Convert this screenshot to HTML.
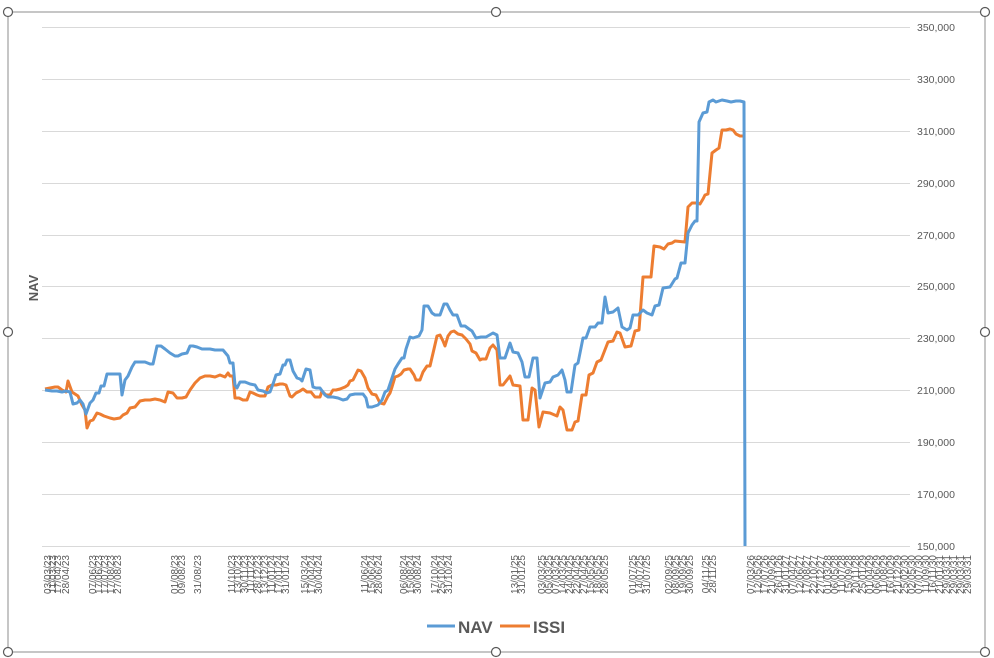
<!DOCTYPE html>
<html><head><meta charset="utf-8"><style>
html,body{margin:0;padding:0;background:#fff;}
svg{display:block;font-family:"Liberation Sans",sans-serif;}
</style></head><body>
<svg width="994" height="658" viewBox="0 0 994 658" xmlns="http://www.w3.org/2000/svg">
<rect x="8" y="12" width="977" height="640" fill="#fff" stroke="#8c8c8c" stroke-width="1"/>
<g stroke="#d9d9d9" stroke-width="1">
<line x1="42" x2="910" y1="27.5" y2="27.5"/><line x1="42" x2="910" y1="79.5" y2="79.5"/>
<line x1="42" x2="910" y1="131.5" y2="131.5"/><line x1="42" x2="910" y1="183.5" y2="183.5"/>
<line x1="42" x2="910" y1="235.5" y2="235.5"/><line x1="42" x2="910" y1="286.5" y2="286.5"/>
<line x1="42" x2="910" y1="338.5" y2="338.5"/><line x1="42" x2="910" y1="390.5" y2="390.5"/>
<line x1="42" x2="910" y1="442.5" y2="442.5"/><line x1="42" x2="910" y1="494.5" y2="494.5"/>
<line x1="42" x2="910" y1="546.5" y2="546.5"/>
</g>
<g font-size="10.5" fill="#595959">
<text x="917" y="31">350,000</text><text x="917" y="83">330,000</text>
<text x="917" y="135">310,000</text><text x="917" y="187">290,000</text>
<text x="917" y="239">270,000</text><text x="917" y="290">250,000</text>
<text x="917" y="342">230,000</text><text x="917" y="394">210,000</text>
<text x="917" y="446">190,000</text><text x="917" y="498">170,000</text>
<text x="917" y="550">150,000</text>
</g>
<text transform="translate(38,288) rotate(-90)" font-size="13" font-weight="bold" fill="#595959" text-anchor="middle">NAV</text>
<polyline fill="none" stroke="#ED7D31" stroke-width="3" stroke-linejoin="round" points="45,389 50,388 55,387 58,387 62,390 66,392 68,381 72,392 75,394 78,396 82,405 85,410 87,428 90,421 93,420 97,413 100,414 104,416 110,418 114,419 120,418 123,415 127,413 130,408 135,407 140,401 145,400 150,400 155,399 160,400 165,402 168,392 173,393 177,398 182,398 186,397 190,390 195,383 200,378 205,376 210,376 215,377 220,375 225,377 228,373 230,376 233,376 235,398 239,398 243,400 247,400 250,392 253,393 257,395 260,396 265,396 268,387 272,385 276,385 280,384 283,384 286,385 290,396 292,397 296,393 300,391 303,389 307,392 311,392 315,397 320,397 322,391 326,395 330,395 333,390 336,390 340,389 345,387 348,385 350,381 353,380 355,376 358,370 361,371 365,378 368,388 372,394 376,395 380,403 384,404 386,400 388,396 390,393 392,387 395,377 398,376 401,374 404,370 408,369 410,369 414,375 416,380 420,380 423,372 427,366 430,366 434,349 437,336 440,335 443,341 445,346 448,336 451,332 454,331 458,334 462,335 466,339 470,344 472,351 476,353 480,360 482,359 486,359 490,348 493,345 497,350 500,385 503,385 510,376 513,385 520,386 523,420 528,420 532,388 535,390 539,427 543,412 550,413 557,416 560,407 563,410 567,430 572,430 575,422 578,421 582,395 586,395 589,375 593,373 597,362 601,360 608,342 613,341 617,332 620,333 625,347 631,346 635,331 639,330 643,277 651,277 654,246 660,247 664,249 668,244 672,243 675,241 685,242 688,207 692,203 697,203 700,204 703,199 705,195 708,194 712,153 716,150 719,148 722,130 726,130 730,129 733,130 736,134 740,136 743,136"/>
<polyline fill="none" stroke="#5B9BD5" stroke-width="3" stroke-linejoin="round" points="45,390 52,391 57,391 62,392 66,391 70,392 73,404 77,403 80,400 83,404 86,414 90,403 93,400 96,393 99,393 101,386 104,386 107,374 112,374 117,374 120,374 122,395 125,380 128,376 132,367 135,362 140,362 145,362 150,364 153,364 157,346 161,346 165,349 170,353 175,356 178,356 182,354 187,353 190,346 193,346 197,347 202,349 210,349 215,350 220,350 223,350 228,356 230,363 233,363 235,385 237,388 240,382 245,382 250,384 255,385 258,390 263,391 267,393 270,392 273,384 276,375 280,374 283,365 285,365 287,360 290,360 293,371 297,378 300,379 302,381 306,369 310,370 313,387 316,388 320,388 325,395 328,397 333,397 338,398 343,400 347,399 350,395 355,394 360,394 363,394 366,398 368,407 372,407 375,406 378,405 382,400 385,392 388,390 390,384 392,378 395,369 398,364 402,358 404,358 406,349 410,337 413,338 416,337 419,336 422,330 424,306 428,306 432,313 435,315 440,315 444,304 447,304 450,310 453,315 457,315 461,326 465,326 469,329 472,331 476,338 481,337 486,337 493,333 497,335 500,358 505,358 510,343 513,352 518,353 522,362 525,377 529,377 533,358 537,358 540,398 545,383 550,382 553,377 558,375 562,370 565,380 567,392 571,392 575,365 578,363 583,338 586,338 590,327 595,327 598,323 602,323 605,297 608,313 613,312 618,308 622,327 627,330 630,328 633,315 638,315 643,310 647,313 652,315 655,306 659,305 663,288 670,287 675,279 677,278 681,263 685,263 688,233 692,225 695,221 697,221 699,122 703,113 707,112 709,102 713,100 716,102 722,100 727,101 731,102 736,101 740,101 744,102 745,546"/>
<g font-size="10" fill="#595959">
<text transform="translate(51,555) rotate(-90)" text-anchor="end">03/03/23</text>
<text transform="translate(56,555) rotate(-90)" text-anchor="end">11/03/23</text>
<text transform="translate(61,555) rotate(-90)" text-anchor="end">17/04/23</text>
<text transform="translate(69,555) rotate(-90)" text-anchor="end">28/04/23</text>
<text transform="translate(96,555) rotate(-90)" text-anchor="end">07/06/23</text>
<text transform="translate(102,555) rotate(-90)" text-anchor="end">17/06/23</text>
<text transform="translate(108,555) rotate(-90)" text-anchor="end">17/07/23</text>
<text transform="translate(114,555) rotate(-90)" text-anchor="end">17/08/23</text>
<text transform="translate(121,555) rotate(-90)" text-anchor="end">27/08/23</text>
<text transform="translate(178,555) rotate(-90)" text-anchor="end">01/08/23</text>
<text transform="translate(185,555) rotate(-90)" text-anchor="end">09/08/23</text>
<text transform="translate(201,555) rotate(-90)" text-anchor="end">31/08/23</text>
<text transform="translate(235,555) rotate(-90)" text-anchor="end">11/10/23</text>
<text transform="translate(241,555) rotate(-90)" text-anchor="end">13/10/23</text>
<text transform="translate(248,555) rotate(-90)" text-anchor="end">30/11/23</text>
<text transform="translate(254,555) rotate(-90)" text-anchor="end">11/11/23</text>
<text transform="translate(261,555) rotate(-90)" text-anchor="end">28/12/23</text>
<text transform="translate(268,555) rotate(-90)" text-anchor="end">13/12/23</text>
<text transform="translate(275,555) rotate(-90)" text-anchor="end">11/01/24</text>
<text transform="translate(282,555) rotate(-90)" text-anchor="end">17/01/24</text>
<text transform="translate(289,555) rotate(-90)" text-anchor="end">31/01/24</text>
<text transform="translate(308,555) rotate(-90)" text-anchor="end">15/03/24</text>
<text transform="translate(315,555) rotate(-90)" text-anchor="end">17/04/24</text>
<text transform="translate(322,555) rotate(-90)" text-anchor="end">30/04/24</text>
<text transform="translate(368,555) rotate(-90)" text-anchor="end">11/06/24</text>
<text transform="translate(375,555) rotate(-90)" text-anchor="end">15/06/24</text>
<text transform="translate(382,555) rotate(-90)" text-anchor="end">28/06/24</text>
<text transform="translate(407,555) rotate(-90)" text-anchor="end">06/08/24</text>
<text transform="translate(414,555) rotate(-90)" text-anchor="end">15/08/24</text>
<text transform="translate(421,555) rotate(-90)" text-anchor="end">30/08/24</text>
<text transform="translate(438,555) rotate(-90)" text-anchor="end">17/10/24</text>
<text transform="translate(445,555) rotate(-90)" text-anchor="end">25/10/24</text>
<text transform="translate(452,555) rotate(-90)" text-anchor="end">31/10/24</text>
<text transform="translate(518,555) rotate(-90)" text-anchor="end">13/01/25</text>
<text transform="translate(525,555) rotate(-90)" text-anchor="end">31/01/25</text>
<text transform="translate(545,555) rotate(-90)" text-anchor="end">03/03/25</text>
<text transform="translate(552,555) rotate(-90)" text-anchor="end">05/03/25</text>
<text transform="translate(559,555) rotate(-90)" text-anchor="end">07/03/25</text>
<text transform="translate(566,555) rotate(-90)" text-anchor="end">14/03/25</text>
<text transform="translate(573,555) rotate(-90)" text-anchor="end">24/04/25</text>
<text transform="translate(580,555) rotate(-90)" text-anchor="end">22/04/25</text>
<text transform="translate(587,555) rotate(-90)" text-anchor="end">27/04/25</text>
<text transform="translate(594,555) rotate(-90)" text-anchor="end">15/05/25</text>
<text transform="translate(601,555) rotate(-90)" text-anchor="end">18/05/25</text>
<text transform="translate(608,555) rotate(-90)" text-anchor="end">28/05/25</text>
<text transform="translate(636,555) rotate(-90)" text-anchor="end">01/07/25</text>
<text transform="translate(643,555) rotate(-90)" text-anchor="end">14/07/25</text>
<text transform="translate(650,555) rotate(-90)" text-anchor="end">31/07/25</text>
<text transform="translate(672,555) rotate(-90)" text-anchor="end">02/09/25</text>
<text transform="translate(679,555) rotate(-90)" text-anchor="end">08/09/25</text>
<text transform="translate(686,555) rotate(-90)" text-anchor="end">19/09/25</text>
<text transform="translate(693,555) rotate(-90)" text-anchor="end">30/09/25</text>
<text transform="translate(709,555) rotate(-90)" text-anchor="end">04/11/25</text>
<text transform="translate(716,555) rotate(-90)" text-anchor="end">28/11/25</text>
</g>
<g font-size="10" fill="#595959">
<text transform="translate(754,555) rotate(-90)" text-anchor="end">07/03/26</text>
<text transform="translate(761,555) rotate(-90)" text-anchor="end">12/05/26</text>
<text transform="translate(768,555) rotate(-90)" text-anchor="end">17/07/26</text>
<text transform="translate(775,555) rotate(-90)" text-anchor="end">21/09/26</text>
<text transform="translate(782,555) rotate(-90)" text-anchor="end">26/11/26</text>
<text transform="translate(789,555) rotate(-90)" text-anchor="end">31/01/27</text>
<text transform="translate(796,555) rotate(-90)" text-anchor="end">07/04/27</text>
<text transform="translate(803,555) rotate(-90)" text-anchor="end">12/06/27</text>
<text transform="translate(810,555) rotate(-90)" text-anchor="end">17/08/27</text>
<text transform="translate(817,555) rotate(-90)" text-anchor="end">22/10/27</text>
<text transform="translate(824,555) rotate(-90)" text-anchor="end">27/12/27</text>
<text transform="translate(831,555) rotate(-90)" text-anchor="end">01/03/28</text>
<text transform="translate(838,555) rotate(-90)" text-anchor="end">06/05/28</text>
<text transform="translate(845,555) rotate(-90)" text-anchor="end">11/07/28</text>
<text transform="translate(852,555) rotate(-90)" text-anchor="end">15/09/28</text>
<text transform="translate(859,555) rotate(-90)" text-anchor="end">20/11/28</text>
<text transform="translate(866,555) rotate(-90)" text-anchor="end">25/01/29</text>
<text transform="translate(873,555) rotate(-90)" text-anchor="end">01/04/29</text>
<text transform="translate(880,555) rotate(-90)" text-anchor="end">06/06/29</text>
<text transform="translate(887,555) rotate(-90)" text-anchor="end">11/08/29</text>
<text transform="translate(894,555) rotate(-90)" text-anchor="end">16/10/29</text>
<text transform="translate(901,555) rotate(-90)" text-anchor="end">21/12/29</text>
<text transform="translate(908,555) rotate(-90)" text-anchor="end">25/02/30</text>
<text transform="translate(915,555) rotate(-90)" text-anchor="end">02/05/30</text>
<text transform="translate(922,555) rotate(-90)" text-anchor="end">07/07/30</text>
<text transform="translate(929,555) rotate(-90)" text-anchor="end">11/09/30</text>
<text transform="translate(936,555) rotate(-90)" text-anchor="end">16/11/30</text>
<text transform="translate(943,555) rotate(-90)" text-anchor="end">21/01/31</text>
<text transform="translate(950,555) rotate(-90)" text-anchor="end">29/03/31</text>
<text transform="translate(957,555) rotate(-90)" text-anchor="end">29/03/31</text>
<text transform="translate(964,555) rotate(-90)" text-anchor="end">29/03/31</text>
<text transform="translate(971,555) rotate(-90)" text-anchor="end">29/03/31</text>
</g>
<line x1="427" x2="455" y1="626" y2="626" stroke="#5B9BD5" stroke-width="3"/>
<text x="458" y="633" font-size="17" font-weight="bold" fill="#595959">NAV</text>
<line x1="500" x2="530" y1="626" y2="626" stroke="#ED7D31" stroke-width="3"/>
<text x="533" y="633" font-size="17" font-weight="bold" fill="#595959">ISSI</text>
<g fill="#fff" stroke="#595959" stroke-width="1.2">
<circle cx="8" cy="12" r="4.5"/><circle cx="496" cy="12" r="4.5"/><circle cx="985" cy="12" r="4.5"/>
<circle cx="8" cy="332" r="4.5"/><circle cx="985" cy="332" r="4.5"/>
<circle cx="8" cy="652" r="4.5"/><circle cx="496" cy="652" r="4.5"/><circle cx="985" cy="652" r="4.5"/>
</g>
</svg>
</body></html>
